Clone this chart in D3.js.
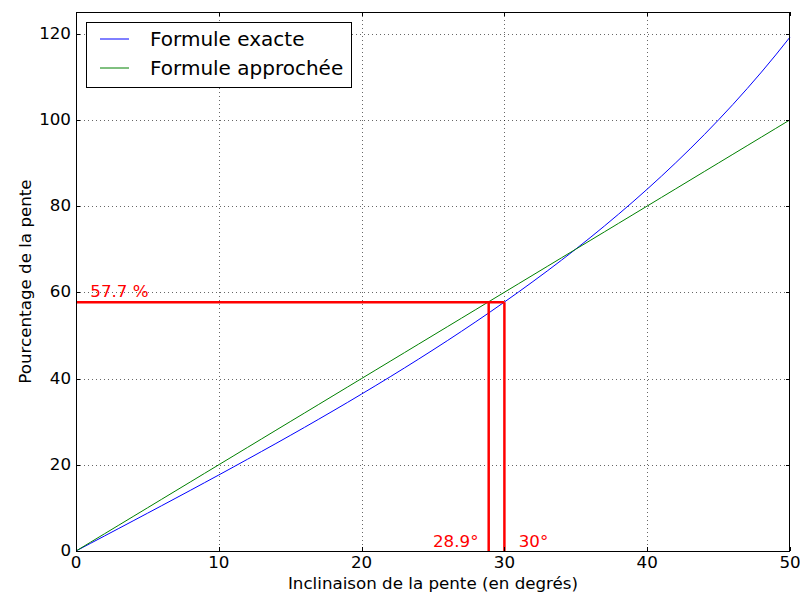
<!DOCTYPE html>
<html><head><meta charset="utf-8">
<script src="https://cdn.jsdelivr.net/npm/d3@7"></script>
<style>body{margin:0;background:#fff}svg{display:block;font-family:"DejaVu Sans",sans-serif}</style>
</head><body><svg id="c" width="800" height="600"></svg>
<script>
const degrees = [0,1,2,3,4,5,6,7,8,9,10,11,12,13,14,15,16,17,18,19,20,21,22,23,24,25,26,27,28,29,30,31,32,33,34,35,36,37,38,39,40,41,42,43,44,45,46,47,48,49,50];
const exact = [0,1.75,3.49,5.24,6.99,8.75,10.51,12.28,14.05,15.84,17.63,19.44,21.26,23.09,24.93,26.79,28.67,30.57,32.49,34.43,36.40,38.39,40.40,42.45,44.52,46.63,48.77,50.95,53.17,55.43,57.74,60.09,62.49,64.94,67.45,70.02,72.65,75.36,78.13,80.98,83.91,86.93,90.04,93.25,96.57,100.00,103.55,107.24,111.06,115.04,119.18];
const approx = [0,2,4,6,8,10,12,14,16,18,20,22,24,26,28,30,32,34,36,38,40,42,44,46,48,50,52,54,56,58,60,62,64,66,68,70,72,74,76,78,80,82,84,86,88,90,92,94,96,98,100];
const xTicks = [0,10,20,30,40,50];
const yTicks = [0,20,40,60,80,100,120];
const seriesNames = ["Formule exacte","Formule approchée"];
const seriesColors = ["#0000ff","#008000"];
const markValue = 57.7, markAngleApprox = 28.9, markAngleExact = 30;
const markLabels = ["57.7 %","28.9°","30°"];

const FS = "16.7px";
const svg = d3.select("#c");
const L=76,R=790,T=12,B=551;
const x = d3.scaleLinear().domain([0,50]).range([L,R]);
const y = d3.scaleLinear().domain([0,125]).range([B,T]);

// grid
const g = svg.append("g");
g.selectAll(".gx").data(xTicks.slice(1,-1)).enter().append("line")
 .attr("x1",d=>Math.round(x(d))+0.5).attr("x2",d=>Math.round(x(d))+0.5).attr("y1",T).attr("y2",B)
 .attr("stroke","#000").attr("stroke-width",0.6).attr("stroke-dasharray","1,3");
g.selectAll(".gy").data(yTicks.slice(1)).enter().append("line")
 .attr("y1",d=>Math.round(y(d))+0.5).attr("y2",d=>Math.round(y(d))+0.5).attr("x1",L).attr("x2",R)
 .attr("stroke","#000").attr("stroke-width",0.6).attr("stroke-dasharray","1,3");

// series
const line = (vals)=>d3.line().x((d,i)=>x(degrees[i])).y(d=>y(d))(vals);
svg.append("path").attr("d",line(exact)).attr("fill","none").attr("stroke",seriesColors[0]).attr("stroke-width",1);
svg.append("path").attr("d",line(approx)).attr("fill","none").attr("stroke",seriesColors[1]).attr("stroke-width",1);

// red marks
const red="#ff0000";
svg.append("line").attr("x1",x(0)).attr("x2",x(markAngleExact)).attr("y1",y(markValue)).attr("y2",y(markValue)).attr("stroke",red).attr("stroke-width",2.5);
[markAngleApprox,markAngleExact].forEach(a=>{
  svg.append("line").attr("x1",x(a)).attr("x2",x(a)).attr("y1",y(0)).attr("y2",y(markValue)).attr("stroke",red).attr("stroke-width",2.5);
});
svg.append("text").attr("x",x(1)).attr("y",y(59)).attr("fill",red).attr("font-size",FS).text(markLabels[0]);
svg.append("text").attr("x",x(25)).attr("y",y(1)).attr("fill",red).attr("font-size",FS).text(markLabels[1]);
svg.append("text").attr("x",x(31)).attr("y",y(1)).attr("fill",red).attr("font-size",FS).text(markLabels[2]);

// axes frame
svg.append("rect").attr("x",L+0.5).attr("y",T+0.5).attr("width",R-L-1).attr("height",B-T).attr("fill","none").attr("stroke","#000").attr("stroke-width",1);

// ticks (inward, all sides)
const tk = svg.append("g").attr("stroke","#000").attr("stroke-width",1);
xTicks.forEach(t=>{
  const px=Math.round(x(t))+0.5;
  tk.append("line").attr("x1",px).attr("x2",px).attr("y1",B).attr("y2",B-4);
  tk.append("line").attr("x1",px).attr("x2",px).attr("y1",T).attr("y2",T+4);
});
yTicks.forEach(t=>{
  const py=Math.round(y(t))+0.5;
  tk.append("line").attr("x1",L).attr("x2",L+4).attr("y1",py).attr("y2",py);
  tk.append("line").attr("x1",R).attr("x2",R-4).attr("y1",py).attr("y2",py);
});
svg.selectAll(".xl").data(xTicks).enter().append("text")
 .attr("x",d=>x(d)).attr("y",B+17).attr("text-anchor","middle").attr("font-size",FS).text(d=>d);
svg.selectAll(".yl").data(yTicks).enter().append("text")
 .attr("x",L-5).attr("y",d=>y(d)+5).attr("text-anchor","end").attr("font-size",FS).text(d=>d);

svg.append("text").attr("x",(L+R)/2).attr("y",589).attr("text-anchor","middle").attr("font-size",FS).text("Inclinaison de la pente (en degrés)");
svg.append("text").attr("transform",`translate(31,${(T+B)/2}) rotate(-90)`).attr("text-anchor","middle").attr("font-size",FS).text("Pourcentage de la pente");

// legend
const lg = svg.append("g");
lg.append("rect").attr("x",86.5).attr("y",22.5).attr("width",265).attr("height",65).attr("fill","#fff").attr("stroke","#000").attr("stroke-width",1);
seriesNames.forEach((n,i)=>{
  const yy=39+i*29;
  lg.append("line").attr("x1",100).attr("x2",129).attr("y1",yy).attr("y2",yy).attr("stroke",seriesColors[i]).attr("stroke-width",1);
  lg.append("text").attr("x",150).attr("y",yy+7).attr("font-size","20px").text(n);
});
</script></body></html>
